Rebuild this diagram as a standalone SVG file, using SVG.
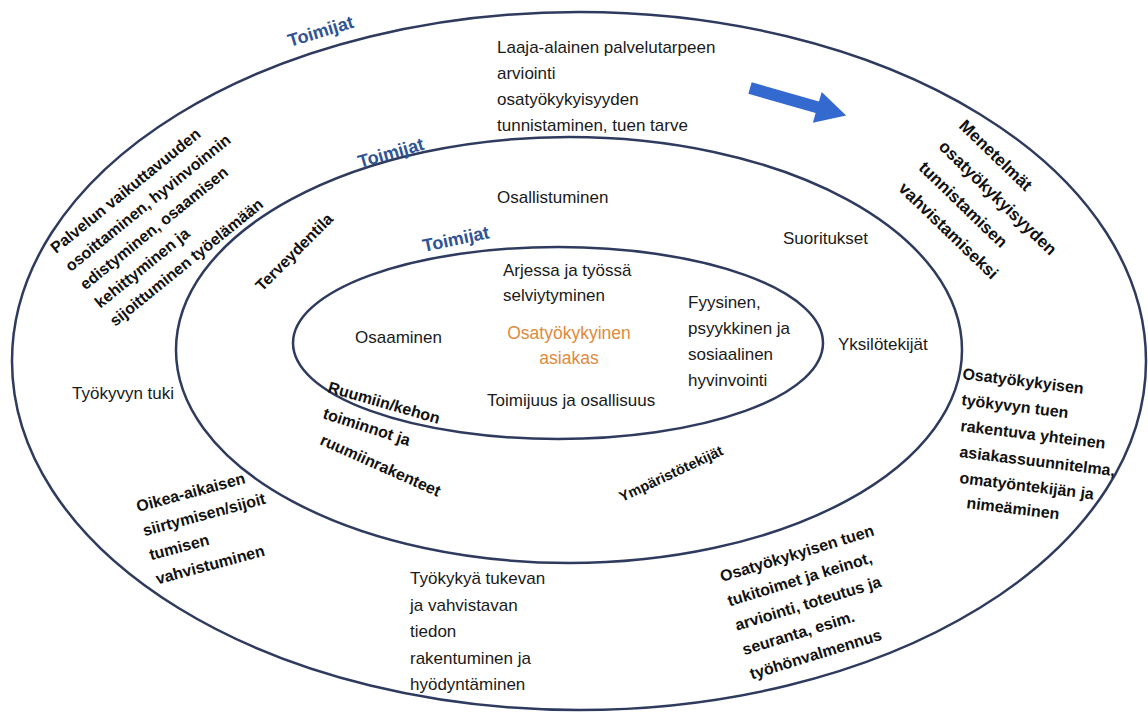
<svg xmlns="http://www.w3.org/2000/svg" width="1148" height="713" viewBox="0 0 1148 713">
<style>
.ring{fill:none;stroke:#2E3B5E;stroke-width:2.5}
.t{font-family:"Liberation Sans",Arial,sans-serif;font-size:17px;fill:#1a1a1a}
.b{font-family:"Liberation Sans",Arial,sans-serif;font-size:16px;font-weight:bold;fill:#111}
.toim{font-family:"Liberation Sans",Arial,sans-serif;font-size:18px;font-weight:bold;fill:#2F5496}
.or{font-family:"Liberation Sans",Arial,sans-serif;font-size:17.5px;fill:#E08A3C}
</style>
<rect width="1148" height="713" fill="#fff"/>
<g id="outer-ring"><ellipse class="ring" cx="579" cy="361" rx="567" ry="349"/></g>
<g id="middle-ring"><ellipse class="ring" cx="569" cy="350" rx="393" ry="213"/></g>
<g id="inner-ring"><ellipse class="ring" cx="558" cy="343" rx="265" ry="96"/></g>

<g id="connectors">
<path d="M0,-6 L70,-6 L70,-16 L100,0 L70,16 L70,6 L0,6 Z" fill="#3469CF" transform="translate(750,88) rotate(16)"/>
</g>

<g id="toimijat-outer"><text class="toim" transform="translate(290,47) rotate(-17)">Toimijat</text></g>
<g id="toimijat-middle"><text class="toim" transform="translate(360,168) rotate(-16)">Toimijat</text></g>
<g id="toimijat-inner"><text class="toim" transform="translate(424,252) rotate(-12)">Toimijat</text></g>

<g id="outer-top"><text class="t" x="497" y="53">Laaja-alainen palvelutarpeen<tspan x="497" dy="26">arviointi</tspan><tspan x="497" dy="26">osatyökykyisyyden</tspan><tspan x="497" dy="26">tunnistaminen, tuen tarve</tspan></text></g>

<g id="outer-upper-left"><text class="b" transform="translate(56,254) rotate(-39)">Palvelun vaikuttavuuden<tspan x="0" dy="23.5">osoittaminen, hyvinvoinnin</tspan><tspan x="0" dy="23.5">edistyminen, osaamisen</tspan><tspan x="0" dy="23.5">kehittyminen ja</tspan><tspan x="0" dy="23.5">sijoittuminen työelämään</tspan></text></g>

<g id="outer-upper-right"><text class="b" style="font-size:17px" transform="translate(958,127) rotate(44)">Menetelmät<tspan x="0" dy="29">osatyökykyisyyden</tspan><tspan x="0" dy="29">tunnistamisen</tspan><tspan x="0" dy="29">vahvistamiseksi</tspan></text></g>

<g id="outer-left"><text class="t" x="72" y="399">Työkyvyn tuki</text></g>

<g id="outer-right">
<text class="b" transform="translate(962,379) rotate(7)">Osatyökykyisen</text>
<text class="b" transform="translate(961,405) rotate(7)">työkyvyn tuen</text>
<text class="b" transform="translate(960,431) rotate(7)">rakentuva yhteinen</text>
<text class="b" transform="translate(959,457) rotate(7)">asiakassuunnitelma,</text>
<text class="b" transform="translate(959,483) rotate(7)">omatyöntekijän ja</text>
<text class="b" transform="translate(966,508) rotate(7)">nimeäminen</text>
</g>

<g id="outer-lower-left"><text class="b" transform="translate(138,512) rotate(-15)">Oikea-aikaisen<tspan x="0" dy="25">siirtymisen/sijoit</tspan><tspan x="0" dy="25">tumisen</tspan><tspan x="0" dy="25">vahvistuminen</tspan></text></g>

<g id="outer-bottom"><text class="t" x="410" y="584">Työkykyä tukevan<tspan x="410" dy="26.5">ja vahvistavan</tspan><tspan x="410" dy="26.5">tiedon</tspan><tspan x="410" dy="26.5">rakentuminen ja</tspan><tspan x="410" dy="26.5">hyödyntäminen</tspan></text></g>

<g id="outer-lower-right"><text class="b" transform="translate(722,582) rotate(-17)">Osatyökykyisen tuen<tspan x="0" dy="25.5">tukitoimet ja keinot,</tspan><tspan x="0" dy="25.5">arviointi, toteutus ja</tspan><tspan x="0" dy="25.5">seuranta, esim.</tspan><tspan x="0" dy="25.5">työhönvalmennus</tspan></text></g>

<g id="middle-top"><text class="t" x="497" y="203">Osallistuminen</text></g>
<g id="middle-upper-right"><text class="t" x="783" y="244">Suoritukset</text></g>
<g id="middle-right"><text class="t" x="838" y="350">Yksilötekijät</text></g>
<g id="middle-upper-left"><text class="b" transform="translate(262,292) rotate(-45)">Terveydentila</text></g>
<g id="middle-lower-left">
<text class="b" transform="translate(327,392) rotate(16)">Ruumiin/kehon</text>
<text class="b" transform="translate(322,418) rotate(18)">toiminnot ja</text>
<text class="b" transform="translate(319,444) rotate(24)">ruumiinrakenteet</text>
</g>
<g id="middle-lower-right"><text class="b" style="font-size:14.5px" transform="translate(622,502) rotate(-25)">Ympäristötekijät</text></g>

<g id="inner-top"><text class="t" x="503" y="276">Arjessa ja työssä<tspan x="503" dy="25">selviytyminen</tspan></text></g>
<g id="inner-left"><text class="t" x="355" y="343">Osaaminen</text></g>
<g id="inner-center"><text class="or" x="569" y="339" text-anchor="middle">Osatyökykyinen<tspan x="569" dy="25">asiakas</tspan></text></g>
<g id="inner-bottom"><text class="t" x="487" y="406">Toimijuus ja osallisuus</text></g>
<g id="inner-right"><text class="t" x="688" y="308">Fyysinen,<tspan x="688" dy="26">psyykkinen ja</tspan><tspan x="688" dy="26">sosiaalinen</tspan><tspan x="688" dy="26">hyvinvointi</tspan></text></g>
</svg>
